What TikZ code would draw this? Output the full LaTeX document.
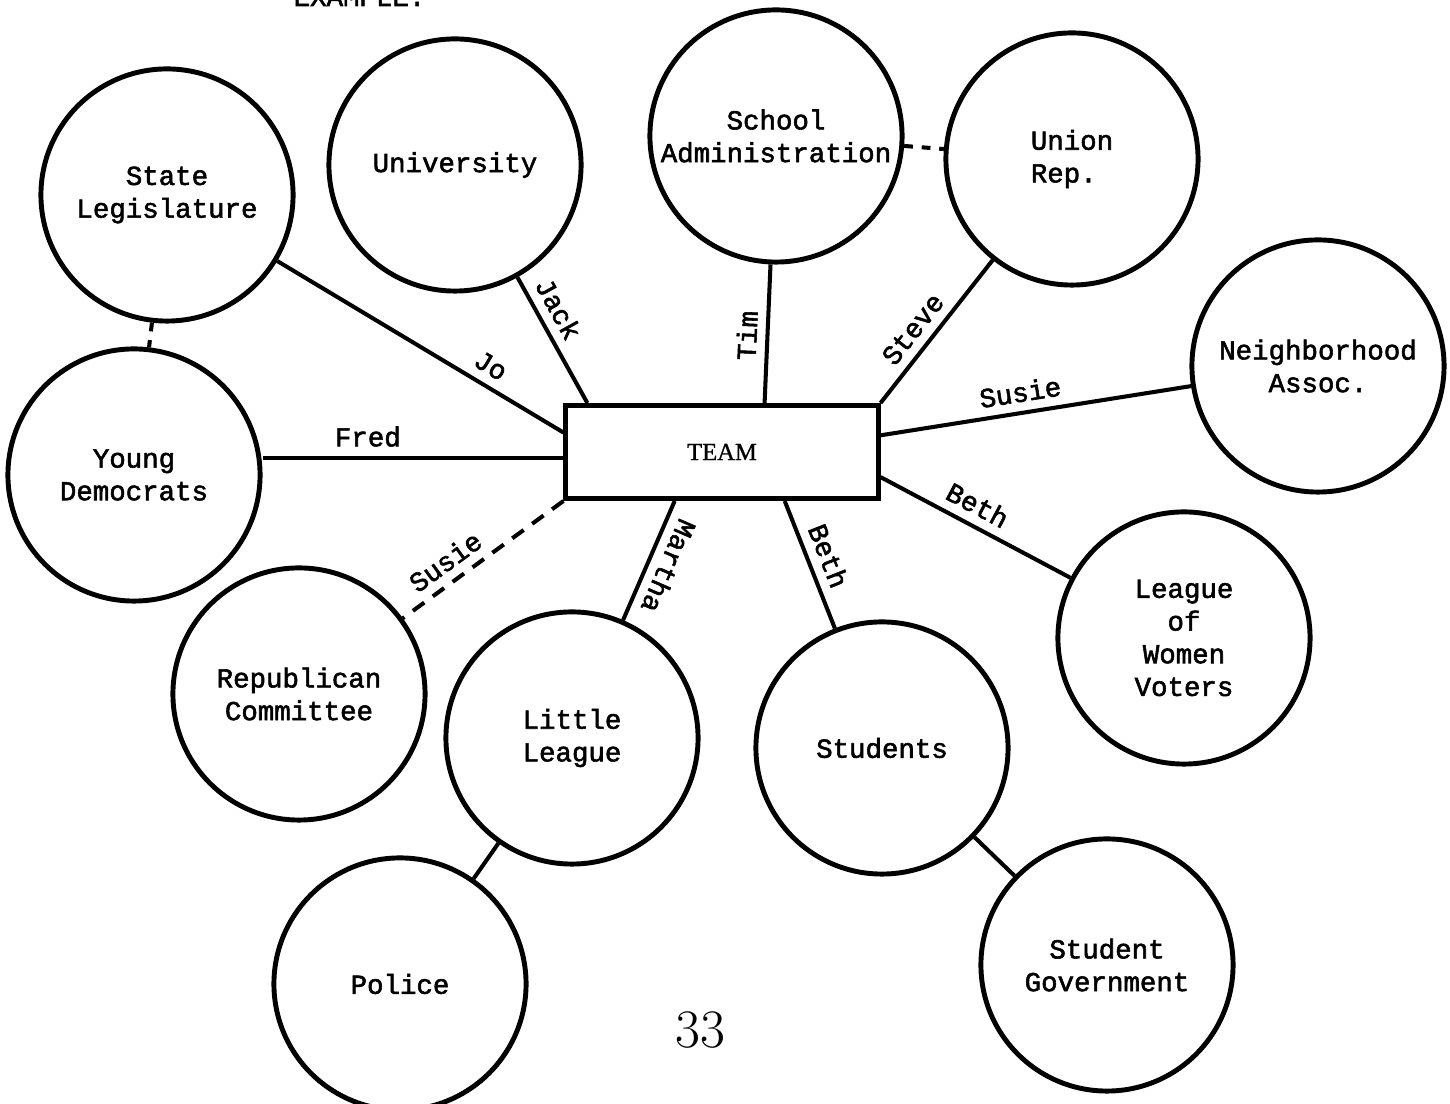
\documentclass[tikz,border=0pt]{standalone}
\usepackage{fontspec}
\newfontfamily\typer{Liberation Mono}[FakeBold=2]
\newfontfamily\teamfont{Liberation Serif}[FakeBold=1]

\begin{document}
\begin{tikzpicture}[x=0.01cm,y=-0.01cm,
    org/.style={circle,draw,line width=1.4pt,minimum size=2.52cm,inner sep=0pt,align=center,
                font=\typer\fontsize{7.8}{9.3}\selectfont},
    team/.style={draw,line width=1.4pt,minimum width=3.12cm,minimum height=0.93cm,inner sep=0pt,
                font=\teamfont\fontsize{7}{8}\selectfont},
    link/.style={line width=1.15pt},
    gap/.style={dash pattern=on 4pt off 3pt},
    who/.style={sloped,above,inner sep=2.5pt,font=\typer\fontsize{7.8}{9}\selectfont}
  ]
  \useasboundingbox (0,0) rectangle (1450,1104);
  \node[org] (SL)  at (167,195)  {State\\Legislature};
  \node[org] (UNI) at (455,165)  {University};
  \node[org] (SA)  at (776,136)  {School\\Administration};
  \node[org,align=left] (UR) at (1072,159) {Union\\Rep.};
  \node[org] (NA)  at (1318,366) {Neighborhood\\Assoc.};
  \node[org] (YD)  at (134,475)  {Young\\Democrats};
  \node[team] (T)  at (722,452)  {TEAM};
  \node[org] (LWV) at (1184,638) {League\\of\\Women\\Voters};
  \node[org] (RC)  at (299,694)  {Republican\\Committee};
  \node[org] (LL)  at (572,738)  {Little\\League};
  \node[org] (ST)  at (882,748)  {Students};
  \node[org] (SG)  at (1107,965) {Student\\Government};
  \node[org] (POL) at (400,984)  {Police};
  \node[font=\fontsize{15.4}{18}\selectfont] (pg) at (700,1030) {33};
  \node[anchor=base west,inner sep=0pt,font=\typer\fontsize{7.8}{9}\selectfont] (ex) at (293,6) {EXAMPLE:};

  \draw[link] (SL) -- node[who,pos=.71] {Jo} (T.173);
  \draw[link] (UNI) -- node[who,pos=.33] {Jack} (T.160);
  \draw[link] (SA) -- node[who,pos=.52] {Tim} (T.49);
  \draw[link] (UR) -- node[who,pos=.57] {Steve} (T.north east);
  \draw[link] (T.6) -- node[who,pos=.46] {Susie} (NA);
  \draw[link] (T.-9) -- node[who,pos=.46] {Beth} (LWV);
  \draw[link] (T.-38) -- node[who,pos=.49] {Beth} (ST);
  \draw[link] (T.-134) -- node[who,allow upside down,pos=.48] {Martha} (LL);
  \draw[link,gap] (T.south west) -- node[who,pos=.66] {Susie} (RC);
  \draw[link] (T.182) -- node[who,pos=.65] {Fred} (T.182 -| YD.east);
  \draw[link] (LL) -- (POL);
  \draw[link] (ST) -- (SG);
  \draw[link,dash pattern=on 2.5pt off 2.5pt] (SL) -- (YD);
  \draw[link,dash pattern=on 2.5pt off 2.5pt] (SA) -- (UR);
\end{tikzpicture}
\end{document}
